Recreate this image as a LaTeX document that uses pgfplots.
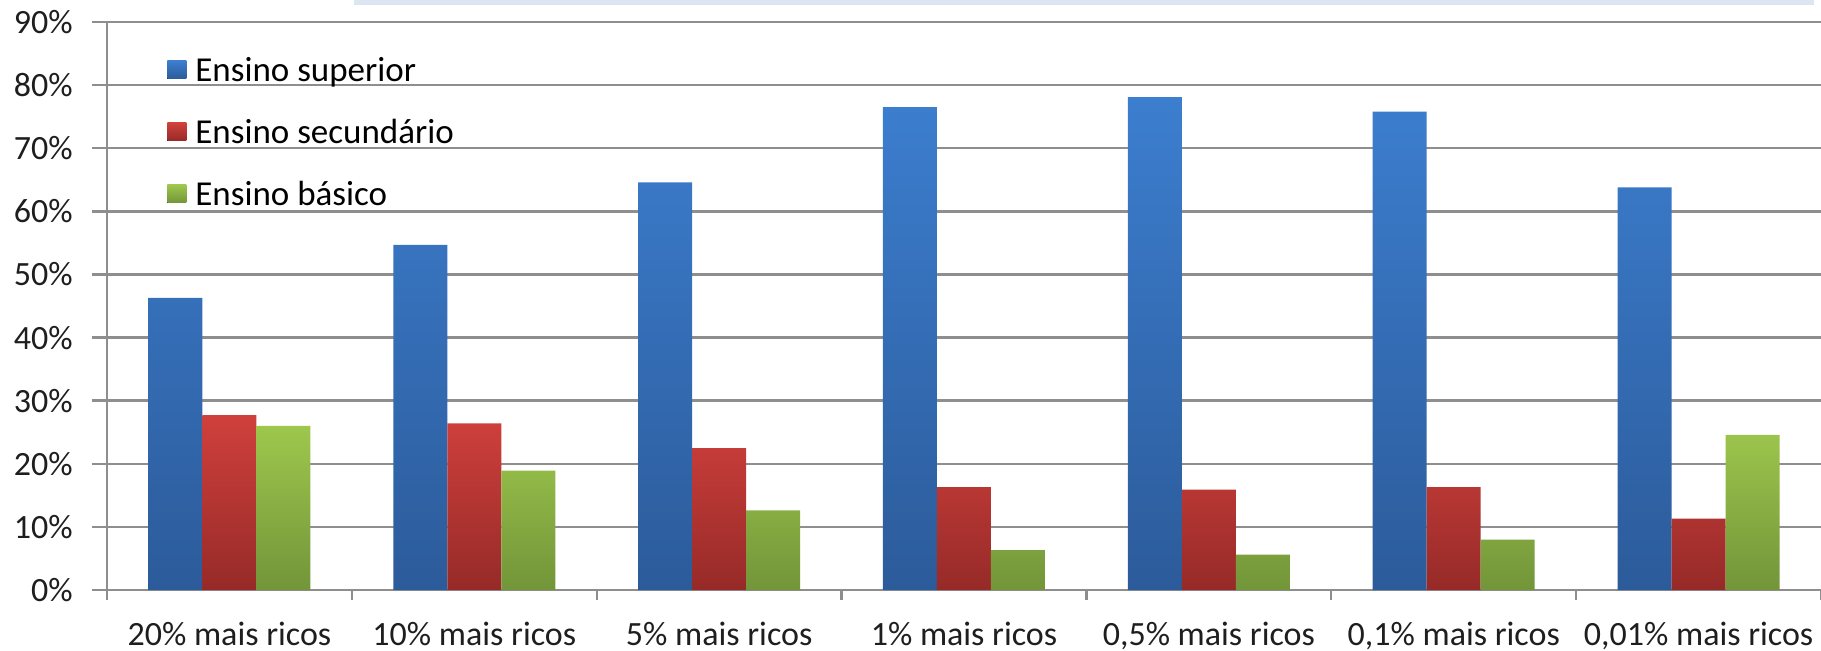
\documentclass[border=0pt]{standalone}
\usepackage{fontspec}
\setmainfont{Carlito}
\usepackage{pgfplots}
\usepackage{pgfplotstable}
\pgfplotsset{compat=1.18}

\definecolor{gridgray}{HTML}{8E8E8E}
\definecolor{blueT}{HTML}{3C7ECF}
\definecolor{blueB}{HTML}{2C5B9A}
\definecolor{redT}{HTML}{D0403C}
\definecolor{redB}{HTML}{962A28}
\definecolor{greenT}{HTML}{9EC74D}
\definecolor{greenB}{HTML}{729539}
\definecolor{bandblue}{HTML}{DCE6F2}
\definecolor{labelgray}{HTML}{1E1E1E}

% share of each education level among the richest groups (%)
\pgfplotstableread{
idx superior secundario basico
0   46.3     27.7       26.0
1   54.7     26.4       18.9
2   64.6     22.5       12.6
3   76.5     16.3        6.3
4   78.1     15.9        5.6
5   75.8     16.3        8.0
6   63.8     11.3       24.6
}\ensinotable

\begin{document}
\begin{tikzpicture}
\useasboundingbox (-53.5pt,-30pt) rectangle (857pt,295pt);
\fill[bandblue] (123.5pt,292.5pt) rectangle (853.5pt,295pt);
\begin{axis}[
  at={(0pt,0pt)}, anchor=south west,
  scale only axis, width=857pt, height=284pt,
  xmin=-0.5, xmax=6.5, ymin=0, ymax=90,
  ybar=0pt, bar width=27pt,
  axis x line*=bottom, axis y line*=left,
  axis line style={gridgray, line width=1.2pt},
  tick align=outside,
  major tick length=7.5pt, minor tick length=5pt,
  ytick={0,10,...,90},
  yticklabels={0\%,10\%,20\%,30\%,40\%,50\%,60\%,70\%,80\%,90\%},
  ymajorgrids,
  major grid style={gridgray, line width=1.2pt},
  major y tick style={gridgray, line width=1.2pt},
  xtick={0,...,6},
  xticklabels={20\% mais ricos,10\% mais ricos,5\% mais ricos,1\% mais ricos,{0,5\% mais ricos},{0,1\% mais ricos},{0,01\% mais ricos}},
  major x tick style={draw=none},
  minor xtick={-0.5,0.5,...,6.5},
  minor x tick style={gridgray, line width=1.2pt},
  tick label style={font=\fontsize{17}{20}\selectfont, text=labelgray},
  yticklabel style={inner sep=0pt, xshift=-9.5pt},
  xticklabel style={anchor=base, inner sep=0pt, yshift=-20pt},
  legend cell align=left,
  legend style={at={(axis description cs:0.035,0.9376)}, anchor=north west,
    draw=none, fill=none, inner sep=0pt, row sep=15pt, column sep=4.5pt,
    font=\fontsize{17.5}{20}\selectfont,
    nodes={inner sep=0pt, text height=12pt, text depth=4pt}},
  legend image code/.code={\fill[#1] (0pt,-2.5pt) rectangle (9.5pt,6.5pt);},
]
\addplot[draw=none, top color=blueT, bottom color=blueB] table[x=idx, y=superior] {\ensinotable};
\addplot[draw=none, top color=redT, bottom color=redB] table[x=idx, y=secundario] {\ensinotable};
\addplot[draw=none, top color=greenT, bottom color=greenB] table[x=idx, y=basico] {\ensinotable};
\legend{Ensino superior, Ensino secundário, Ensino básico}
\end{axis}
\end{tikzpicture}
\end{document}
